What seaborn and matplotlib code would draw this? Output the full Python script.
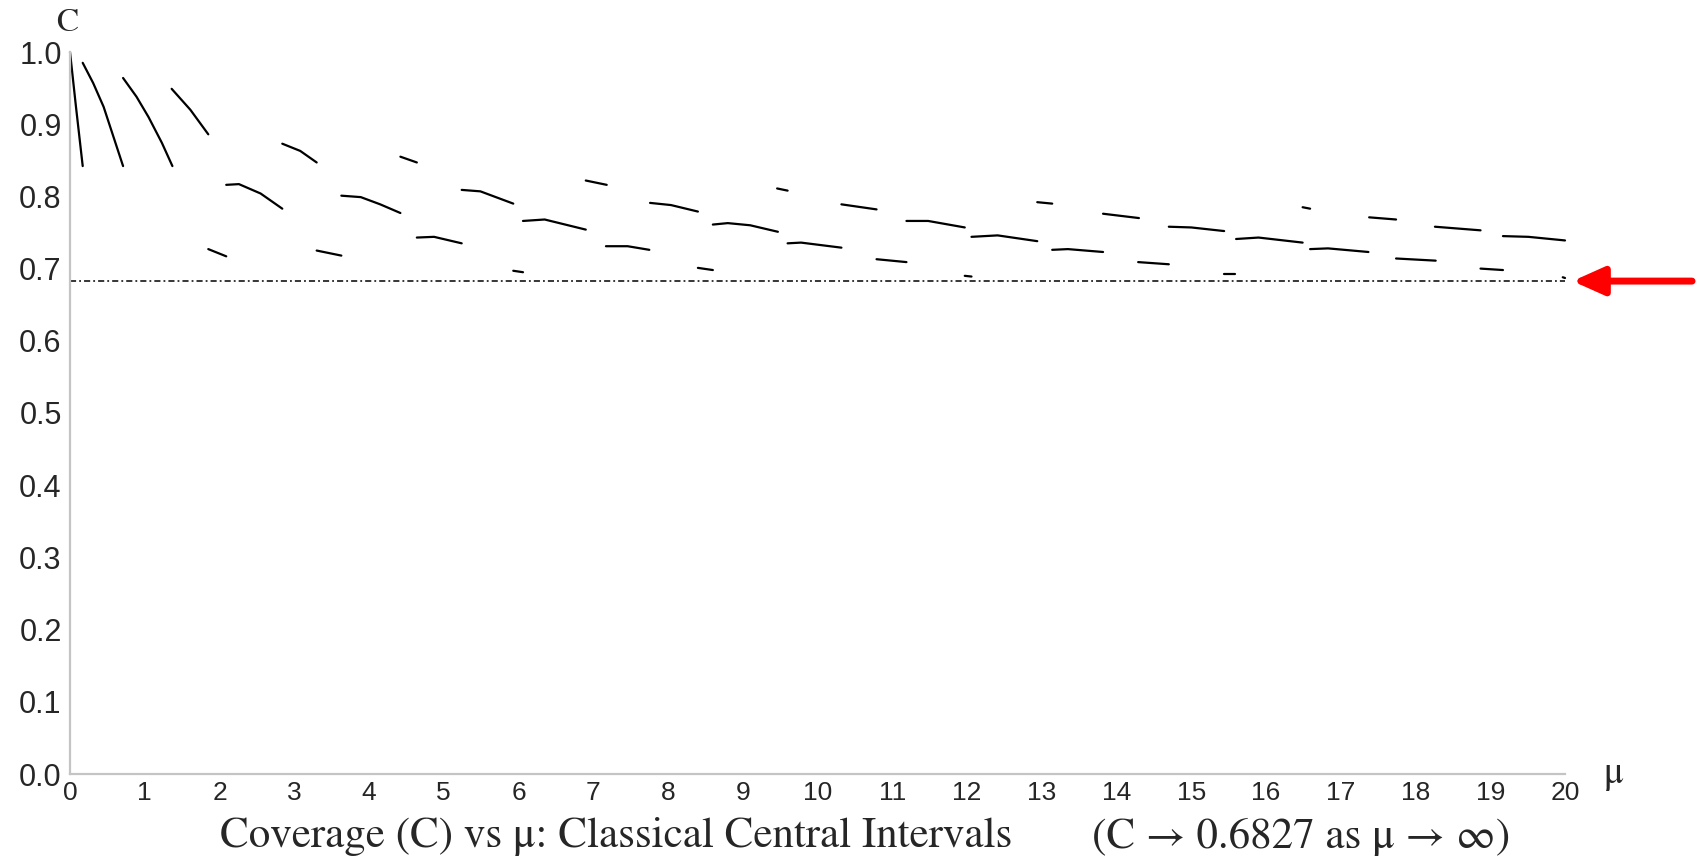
import matplotlib
matplotlib.use("Agg")
import matplotlib.pyplot as plt
import seaborn as sns
import pandas as pd

# coverage segments: one list per continuous piece
seg_mu = [
    [0.0, 0.08, 0.17],
    [0.17, 0.31, 0.45, 0.58, 0.71],
    [0.71, 0.89, 1.05, 1.23, 1.37],
    [1.36, 1.61, 1.85],
    [1.85, 2.09],
    [2.09, 2.26, 2.55, 2.84],
    [2.84, 3.08, 3.30],
    [3.30, 3.63],
    [3.63, 3.89, 4.15, 4.42],
    [4.42, 4.64],
    [4.64, 4.87, 5.24],
    [5.24, 5.49, 5.93],
    [5.93, 6.06],
    [6.06, 6.35, 6.90],
    [6.90, 7.18],
    [7.17, 7.46, 7.75],
    [7.76, 8.04, 8.40],
    [8.40, 8.60],
    [8.60, 8.80, 9.10, 9.47],
    [9.46, 9.60],
    [9.60, 9.78, 10.32],
    [10.32, 10.79],
    [10.79, 11.19],
    [11.19, 11.48, 11.97],
    [11.97, 12.06],
    [12.06, 12.41, 12.94],
    [12.94, 13.14],
    [13.14, 13.35, 13.82],
    [13.82, 14.30],
    [14.29, 14.70],
    [14.70, 15.00, 15.44],
    [15.44, 15.58],
    [15.60, 15.90, 16.49],
    [16.49, 16.59],
    [16.59, 16.83, 17.37],
    [17.38, 17.74],
    [17.74, 18.27],
    [18.26, 18.87],
    [18.87, 19.17],
    [19.17, 19.51, 20.0],
    [19.97, 20.0],
]
seg_cov = [
    [1.000, 0.924, 0.842],
    [0.985, 0.957, 0.924, 0.883, 0.842],
    [0.964, 0.938, 0.910, 0.874, 0.842],
    [0.949, 0.920, 0.886],
    [0.727, 0.717],
    [0.816, 0.817, 0.804, 0.783],
    [0.873, 0.863, 0.847],
    [0.725, 0.718],
    [0.801, 0.799, 0.789, 0.777],
    [0.855, 0.847],
    [0.743, 0.744, 0.735],
    [0.809, 0.807, 0.790],
    [0.697, 0.695],
    [0.766, 0.768, 0.754],
    [0.822, 0.816],
    [0.731, 0.731, 0.726],
    [0.791, 0.788, 0.779],
    [0.701, 0.698],
    [0.761, 0.763, 0.760, 0.751],
    [0.811, 0.808],
    [0.735, 0.736, 0.729],
    [0.789, 0.782],
    [0.713, 0.709],
    [0.766, 0.766, 0.757],
    [0.690, 0.689],
    [0.744, 0.746, 0.738],
    [0.792, 0.790],
    [0.726, 0.727, 0.723],
    [0.776, 0.770],
    [0.709, 0.706],
    [0.758, 0.757, 0.752],
    [0.692, 0.692],
    [0.741, 0.743, 0.736],
    [0.785, 0.783],
    [0.727, 0.728, 0.723],
    [0.771, 0.768],
    [0.714, 0.711],
    [0.758, 0.753],
    [0.700, 0.698],
    [0.745, 0.744, 0.739],
    [0.688, 0.687],
]
limit_cov = 0.6827
mu_max = 20
y_ticks = [0.0, 0.1, 0.2, 0.3, 0.4, 0.5, 0.6, 0.7, 0.8, 0.9, 1.0]
x_major = [0, 5, 10, 15, 20]
x_minor = [t for t in range(0, 21) if t not in x_major]

rows = []
for k, (ms, cs) in enumerate(zip(seg_mu, seg_cov)):
    for m, c in zip(ms, cs):
        rows.append({"mu": m, "C": c, "seg": k})
df = pd.DataFrame(rows)

sns.set_style("white")
plt.rcParams["font.family"] = ["Liberation Sans", "DejaVu Sans"]

fig = plt.figure(figsize=(17.03, 8.56), dpi=100)
ax = fig.add_axes([70 / 1703, 1 - 774 / 856, 1495 / 1703, 722 / 856])

sns.lineplot(data=df, x="mu", y="C", units="seg", estimator=None, sort=False,
             color="black", linewidth=1.6, ax=ax, clip_on=False,
             solid_joinstyle="round", solid_capstyle="round")

ax.plot([0, mu_max], [limit_cov, limit_cov], color="black", linewidth=1.1,
        linestyle=(0, (4, 2, 1.2, 2)))

ax.set_xlim(0, mu_max)
ax.set_ylim(0, 1.0)
ax.set_xlabel("")
ax.set_ylabel("")

gray = "#c4c4c4"
for side in ["top", "right"]:
    ax.spines[side].set_visible(False)
for side in ["left", "bottom"]:
    ax.spines[side].set_color(gray)
    ax.spines[side].set_linewidth(1.6)

ax.set_xticks(x_major)
ax.set_xticklabels([str(t) for t in x_major])
ax.set_xticks(x_minor, minor=True)
ax.set_xticklabels([str(t) for t in x_minor], minor=True)
ax.tick_params(axis="x", which="major", direction="in", length=19, width=1.3,
               color=gray, labelsize=19, pad=5)
ax.tick_params(axis="x", which="minor", direction="in", length=11, width=1.3,
               color=gray, labelsize=19, pad=5)
ax.set_yticks(y_ticks)
ax.set_yticklabels([f"{t:.1f}" for t in y_ticks])
ax.tick_params(axis="y", direction="in", length=11.5, width=1.3, color=gray,
               labelsize=22, pad=6)

serif = ["STIXGeneral", "Liberation Serif", "DejaVu Serif"]
ax.text(-0.04, 1.04, "C", fontsize=24, family=serif, ha="center", va="center",
        clip_on=False)
ax.text(20.65, 0.0, "μ", fontsize=27, family=serif, ha="center", va="center",
        clip_on=False)
fig.text(220 / 1703, 1 - 837 / 856, "Coverage (C) vs μ: Classical Central Intervals",
         fontsize=31, family=serif, ha="left", va="center")
fig.text(1510 / 1703, 1 - 837 / 856, "(C → 0.6827 as μ → ∞)",
         fontsize=31, family=serif, ha="right", va="center")

ax.annotate("", xy=(20.1, limit_cov), xytext=(21.7, limit_cov),
            xycoords="data", textcoords="data", annotation_clip=False,
            arrowprops=dict(arrowstyle="-|>,head_length=1.9,head_width=0.85",
                            color="red", lw=5, shrinkA=0, shrinkB=0))

plt.savefig("out.png", dpi=100)
